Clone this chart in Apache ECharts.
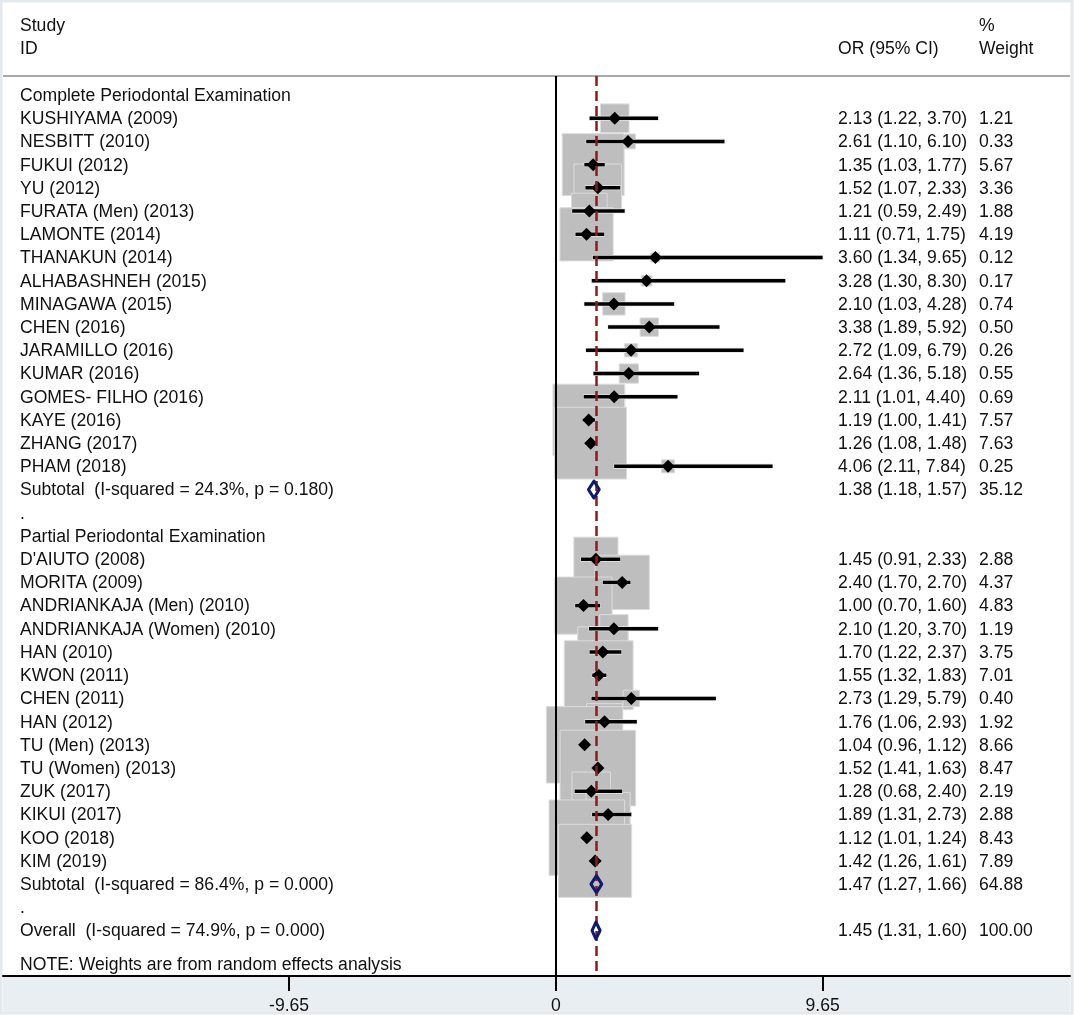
<!DOCTYPE html>
<html><head><meta charset="utf-8">
<script src="https://cdn.jsdelivr.net/npm/echarts@6/dist/echarts.min.js"></script>
<style>html,body{margin:0;padding:0;background:#fff}#c{width:1074px;height:1015px}</style>
</head><body><div id="c"></div>
<script>
// ---------- DATA ----------
const completeStudies = ["KUSHIYAMA (2009)","NESBITT (2010)","FUKUI (2012)","YU (2012)","FURATA (Men) (2013)","LAMONTE (2014)","THANAKUN (2014)","ALHABASHNEH (2015)","MINAGAWA (2015)","CHEN (2016)","JARAMILLO (2016)","KUMAR (2016)","GOMES- FILHO (2016)","KAYE (2016)","ZHANG (2017)","PHAM (2018)"];
const completeOR     = [2.13,2.61,1.35,1.52,1.21,1.11,3.60,3.28,2.10,3.38,2.72,2.64,2.11,1.19,1.26,4.06];
const completeLow    = [1.22,1.10,1.03,1.07,0.59,0.71,1.34,1.30,1.03,1.89,1.09,1.36,1.01,1.00,1.08,2.11];
const completeHigh   = [3.70,6.10,1.77,2.33,2.49,1.75,9.65,8.30,4.28,5.92,6.79,5.18,4.40,1.41,1.48,7.84];
const completeWeight = [1.21,0.33,5.67,3.36,1.88,4.19,0.12,0.17,0.74,0.50,0.26,0.55,0.69,7.57,7.63,0.25];

const partialStudies = ["D'AIUTO (2008)","MORITA (2009)","ANDRIANKAJA (Men) (2010)","ANDRIANKAJA (Women) (2010)","HAN (2010)","KWON (2011)","CHEN (2011)","HAN (2012)","TU (Men) (2013)","TU (Women) (2013)","ZUK (2017)","KIKUI (2017)","KOO (2018)","KIM (2019)"];
const partialOR     = [1.45,2.40,1.00,2.10,1.70,1.55,2.73,1.76,1.04,1.52,1.28,1.89,1.12,1.42];
const partialLow    = [0.91,1.70,0.70,1.20,1.22,1.32,1.29,1.06,0.96,1.41,0.68,1.31,1.01,1.26];
const partialHigh   = [2.33,2.70,1.60,3.70,2.37,1.83,5.79,2.93,1.12,1.63,2.40,2.73,1.24,1.61];
const partialWeight = [2.88,4.37,4.83,1.19,3.75,7.01,0.40,1.92,8.66,8.47,2.19,2.88,8.43,7.89];

const groupNames = ["Complete Periodontal Examination","Partial Periodontal Examination"];
const summaryLabels = ["Subtotal  (I-squared = 24.3%, p = 0.180)","Subtotal  (I-squared = 86.4%, p = 0.000)","Overall  (I-squared = 74.9%, p = 0.000)"];
const summaryOR     = [1.38,1.47,1.45];
const summaryLow    = [1.18,1.27,1.31];
const summaryHigh   = [1.57,1.66,1.60];
const summaryWeight = [35.12,64.88,100.00];
const overallLine = 1.45;
const xTicks = [-9.65, 0, 9.65];
const noteText = "NOTE: Weights are from random effects analysis";

// ---------- BUILD ROWS ----------
const rows = [];
function addGroup(g, names, or, lo, hi, w, si){
  rows.push({kind:'header', label:groupNames[g]});
  names.forEach((n,i)=>rows.push({kind:'study', label:n, or:or[i], lo:lo[i], hi:hi[i], w:w[i]}));
  rows.push({kind:'summary', label:summaryLabels[si], or:summaryOR[si], lo:summaryLow[si], hi:summaryHigh[si], w:summaryWeight[si]});
  rows.push({kind:'dot', label:'.'});
}
addGroup(0, completeStudies, completeOR, completeLow, completeHigh, completeWeight, 0);
addGroup(1, partialStudies, partialOR, partialLow, partialHigh, partialWeight, 1);
rows.push({kind:'summary', label:summaryLabels[2], or:summaryOR[2], lo:summaryLow[2], hi:summaryHigh[2], w:summaryWeight[2]});
const noteRow = rows.length - 1 + 1.5;

const FONT = '"Liberation Sans", Arial, sans-serif';
const FS = 17.6;
const TXT = '#111111';
const fmt = v => v.toFixed(2);

const boxData = [], whiskerData = [], sumData = [], textData = [];
rows.forEach((r,i)=>{
  textData.push([0, i, i]);
  if (r.kind==='study'){
    boxData.push([r.or, i, r.w]);
    whiskerData.push([r.lo, i, r.hi, r.or]);
  } else if (r.kind==='summary'){
    sumData.push([r.lo, i, r.hi, r.or]);
  }
});

const chart = echarts.init(document.getElementById('c'), null, {renderer:'canvas'});
const BOX_K = 26;
const font = FS + 'px ' + FONT;

const option = {
  animation:false,
  backgroundColor:'#ffffff',
  grid:{left:3, right:4, top:76, bottom:39, containLabel:false},
  xAxis:{
    type:'value', min:-20, max:18.6, position:'bottom',
    axisLine:{show:true, onZero:false, lineStyle:{color:'#000', width:2}},
    axisTick:{show:true, customValues:xTicks, length:15, lineStyle:{color:'#000', width:2}},
    axisLabel:{show:true, customValues:xTicks, margin:21, fontSize:FS, fontFamily:FONT, color:TXT,
      formatter:v=>String(v)},
    splitLine:{show:false}
  },
  yAxis:{type:'value', inverse:true, min:-0.82, max:37.96, show:false, splitLine:{show:false}},
  graphic:[
    {type:'rect', z:-10, silent:true, shape:{x:1, y:1, width:1071, height:1012}, style:{fill:'#fff', stroke:'#e3e9ee', lineWidth:3}},
    {type:'rect', z:-9, silent:true, shape:{x:3, y:977, width:1067, height:35}, style:{fill:'#e9eef2'}},
    {type:'line', z:-8, silent:true, shape:{x1:3, y1:76, x2:1070, y2:76}, style:{stroke:'#a9a9a9', lineWidth:2}},
    {type:'text', silent:true, x:20, y:26, style:{text:'Study', font:font, fill:TXT, verticalAlign:'middle'}},
    {type:'text', silent:true, x:20, y:49, style:{text:'ID', font:font, fill:TXT, verticalAlign:'middle'}},
    {type:'text', silent:true, x:838, y:49, style:{text:'OR (95% CI)', font:font, fill:TXT, verticalAlign:'middle'}},
    {type:'text', silent:true, x:979, y:26, style:{text:'%', font:font, fill:TXT, verticalAlign:'middle'}},
    {type:'text', silent:true, x:979, y:49, style:{text:'Weight', font:font, fill:TXT, verticalAlign:'middle'}}
  ],
  series:[
    { // reference lines
      type:'line', data:[], z:1, silent:true,
      markLine:{symbol:['none','none'], silent:true, label:{show:false}, animation:false,
        data:[
          {xAxis:0, lineStyle:{color:'#000', width:2, type:'solid'}},
          {xAxis:overallLine, lineStyle:{color:'#8c1c1c', width:2.5, type:[10,5]}}
        ]}
    },
    { // weight boxes
      type:'custom', z:2, silent:true, clip:false, data:boxData,
      renderItem(params, api){
        const c = api.coord([api.value(0), api.value(1)]);
        const s = BOX_K*Math.sqrt(api.value(2));
        return {type:'rect', shape:{x:c[0]-s/2, y:c[1]-s/2, width:s, height:s},
          style:{fill:'#bebebe', stroke:'#dcdcdc', lineWidth:1}};
      }
    },
    { // whiskers + point markers
      type:'custom', z:3, silent:true, clip:false, data:whiskerData,
      renderItem(params, api){
        const a = api.coord([api.value(0), api.value(1)]);
        const b = api.coord([api.value(2), api.value(1)]);
        const m = api.coord([api.value(3), api.value(1)]);
        return {type:'group', children:[
          {type:'line', shape:{x1:a[0]-0.5, y1:a[1], x2:b[0]+0.5, y2:b[1]}, style:{stroke:'#e6e6e6', lineWidth:5}},
          {type:'line', shape:{x1:a[0], y1:a[1], x2:b[0], y2:b[1]}, style:{stroke:'#000', lineWidth:3.5}},
          {type:'polygon', shape:{points:[[m[0]-6.5,m[1]],[m[0],m[1]-6.5],[m[0]+6.5,m[1]],[m[0],m[1]+6.5]]}, style:{fill:'#000'}}
        ]};
      }
    },
    { // pooled diamonds
      type:'custom', z:5, silent:true, clip:false, data:sumData,
      renderItem(params, api){
        const a = api.coord([api.value(0), api.value(1)]);
        const b = api.coord([api.value(2), api.value(1)]);
        const m = api.coord([api.value(3), api.value(1)]);
        const h = 8.5;
        return {type:'polygon', shape:{points:[[a[0],a[1]],[m[0],m[1]-h],[b[0],b[1]],[m[0],m[1]+h]]},
          style:{fill:'none', stroke:'#0f1b6c', lineWidth:3, lineJoin:'round'}};
      }
    },
    { // row texts
      type:'custom', z:6, silent:true, clip:false, data:textData,
      renderItem(params, api){
        const r = rows[api.value(2)];
        const y = api.coord([0, api.value(1)])[1] + 1;
        const kids = [{type:'text', x:20, y:y, style:{text:r.label, font:font, fill:TXT, verticalAlign:'middle'}}];
        if (r.kind==='study' || r.kind==='summary'){
          kids.push({type:'text', x:838, y:y, style:{text:`${fmt(r.or)} (${fmt(r.lo)}, ${fmt(r.hi)})`, font:font, fill:TXT, verticalAlign:'middle'}});
          kids.push({type:'text', x:979, y:y, style:{text:fmt(r.w), font:font, fill:TXT, verticalAlign:'middle'}});
        }
        return {type:'group', children:kids};
      }
    },
    { // note
      type:'custom', z:6, silent:true, clip:false, data:[[0, noteRow]],
      renderItem(params, api){
        const y = api.coord([0, api.value(1)])[1];
        return {type:'text', x:20, y:y, style:{text:noteText, font:font, fill:TXT, verticalAlign:'middle'}};
      }
    }
  ]
};
chart.setOption(option);
</script>
</body></html>
